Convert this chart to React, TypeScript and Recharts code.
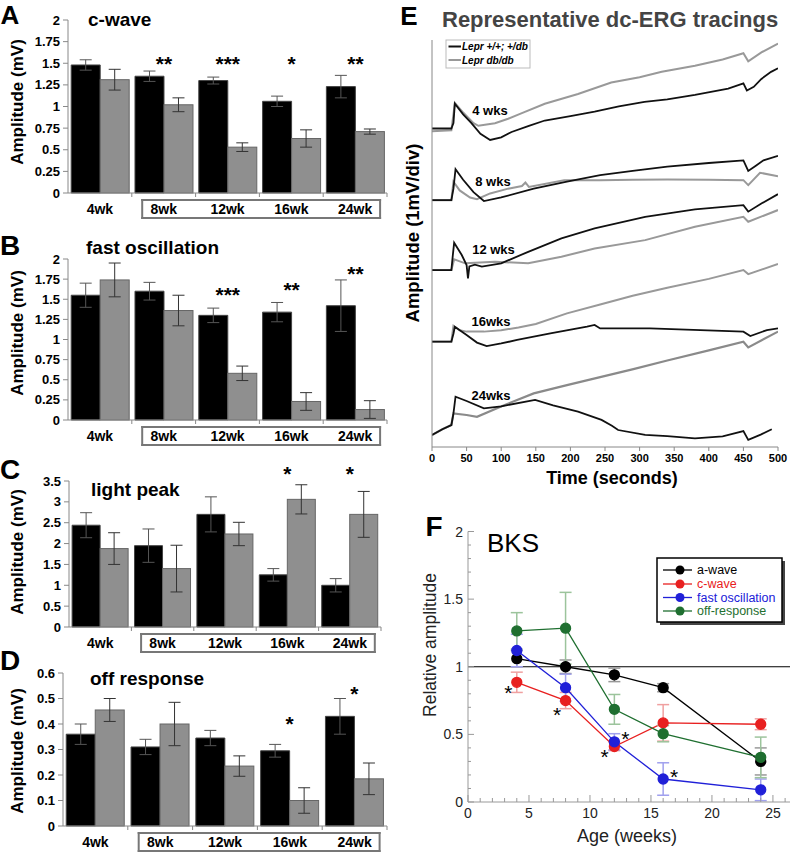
import React from 'react';
import { ComposedChart, LineChart, Bar, Line, XAxis, YAxis, ErrorBar, Scatter, ReferenceLine } from 'recharts';

const FONT = '"Liberation Sans", Arial, Helvetica, sans-serif';

// ---------- Panels A-D ----------
const ageLabels = ['4wk', '8wk', '12wk', '16wk', '24wk'];

const cwaveCtrl = [1.48, 1.35, 1.3, 1.06, 1.23];
const cwaveCtrlErr = [0.06, 0.06, 0.04, 0.06, 0.13];
const cwaveDb = [1.31, 1.02, 0.53, 0.63, 0.71];
const cwaveDbErr = [0.12, 0.08, 0.05, 0.1, 0.03];
const cwaveStars = ['', '**', '***', '*', '**'];
const cwaveStarLevel = [0, 1.55, 1.55, 1.55, 1.55];

const fastCtrl = [1.55, 1.6, 1.3, 1.34, 1.42];
const fastCtrlErr = [0.15, 0.11, 0.09, 0.12, 0.32];
const fastDb = [1.74, 1.36, 0.58, 0.23, 0.13];
const fastDbErr = [0.21, 0.19, 0.09, 0.11, 0.11];
const fastStars = ['', '', '***', '**', '**'];
const fastStarLevel = [0, 0, 1.62, 1.68, 1.87];

const lightCtrl = [2.44, 1.95, 2.7, 1.25, 1.0];
const lightCtrlErr = [0.3, 0.4, 0.42, 0.15, 0.16];
const lightDb = [1.88, 1.4, 2.23, 3.06, 2.7];
const lightDbErr = [0.38, 0.56, 0.28, 0.35, 0.55];
const lightStars = ['', '', '', '*', '*'];
const lightStarLevel = [0, 0, 0, 3.78, 3.78];

const offCtrl = [0.36, 0.31, 0.345, 0.295, 0.43];
const offCtrlErr = [0.04, 0.03, 0.03, 0.025, 0.07];
const offDb = [0.455, 0.4, 0.235, 0.1, 0.185];
const offDbErr = [0.045, 0.085, 0.04, 0.05, 0.062];
const offStars = ['', '', '', '*', '*'];
const offStarLevel = [0, 0, 0, 0.418, 0.536];

const cwaveTicks = [0, 0.25, 0.5, 0.75, 1, 1.25, 1.5, 1.75, 2];
const fastTicks = [0, 0.25, 0.5, 0.75, 1, 1.25, 1.5, 1.75, 2];
const lightTicks = [0, 0.5, 1, 1.5, 2, 2.5, 3, 3.5];
const offTicks = [0, 0.1, 0.2, 0.3, 0.4, 0.5, 0.6];

// ---------- Panel E (values in mV divisions) ----------
const timeTicks = [0, 50, 100, 150, 200, 250, 300, 350, 400, 450, 500];
const divTicks = [0, 1, 2, 3, 4, 5, 6, 7, 8, 9, 10, 11, 12, 13, 14, 15, 16, 17, 18, 19, 20, 21, 22, 23];

const wk4Black = [[0, 18.0], [28, 18.0], [31, 18.3], [33, 19.4], [45, 18.8], [57, 18.3], [70, 17.7], [84, 17.35], [100, 17.5], [115, 17.8], [140, 18.15], [163, 18.45], [200, 18.7], [235, 18.95], [270, 19.25], [307, 19.5], [340, 19.65], [380, 19.9], [428, 20.25], [450, 20.55], [455, 20.15], [465, 20.35], [476, 20.8], [490, 21.2], [500, 21.4]];
const wk4Gray = [[0, 17.85], [28, 17.9], [31, 18.8], [33, 19.45], [45, 18.9], [60, 18.3], [67, 18.15], [91, 18.3], [110, 18.55], [129, 18.85], [163, 19.4], [211, 19.95], [259, 20.6], [300, 20.9], [332, 21.2], [380, 21.55], [420, 21.9], [450, 22.25], [457, 21.8], [476, 22.3], [500, 22.8]];
const wk8Black = [[0, 13.95], [28, 13.95], [31, 14.6], [34, 15.7], [45, 15.1], [60, 14.4], [75, 13.9], [100, 14.1], [147, 14.6], [195, 15.0], [243, 15.37], [290, 15.6], [340, 15.84], [400, 16.05], [450, 16.2], [457, 15.6], [468, 15.9], [479, 16.2], [500, 16.45]];
const wk8Gray = [[0, 13.95], [28, 13.95], [31, 14.99], [40, 14.5], [55, 14.1], [65, 14.0], [84, 14.33], [110, 14.6], [130, 14.75], [135, 14.95], [140, 14.7], [191, 15.08], [243, 15.08], [290, 15.1], [340, 15.12], [400, 15.1], [450, 15.08], [457, 14.8], [474, 15.5], [500, 15.3]];
const wk12Black = [[0, 10.0], [28, 10.0], [30, 10.8], [32, 11.54], [43, 10.85], [50, 10.28], [52, 9.53], [54, 10.2], [62, 10.3], [72, 10.19], [100, 10.38], [139, 11.03], [187, 11.79], [235, 12.35], [308, 13.01], [380, 13.43], [450, 13.67], [457, 13.3], [476, 13.76], [500, 14.29]];
const wk12Gray = [[0, 10.0], [28, 10.0], [32, 10.6], [48, 10.38], [91, 10.47], [139, 10.38], [187, 10.75], [235, 11.22], [308, 11.69], [380, 12.45], [450, 13.01], [457, 12.73], [500, 13.39]];
const wk16Black = [[0, 5.95], [28, 5.95], [31, 6.4], [33, 6.8], [50, 6.33], [65, 5.9], [79, 5.7], [100, 5.85], [123, 6.05], [171, 6.42], [224, 6.8], [235, 6.9], [243, 6.7], [315, 6.7], [388, 6.61], [450, 6.52], [460, 6.27], [484, 6.61], [500, 6.7]];
const wk16Gray = [[0, 5.95], [28, 5.95], [31, 6.85], [40, 6.6], [50, 6.52], [75, 6.52], [100, 6.6], [125, 6.75], [150, 6.95], [195, 7.55], [243, 8.05], [290, 8.55], [340, 9.0], [400, 9.5], [450, 10.0], [457, 9.77], [500, 10.34]];
const wk24Black = [[0, 0.68], [15, 1.0], [28, 1.24], [31, 1.9], [34, 2.84], [50, 2.6], [75, 2.18], [100, 2.3], [149, 2.66], [175, 2.35], [211, 2.0], [245, 1.53], [260, 1.2], [269, 0.96], [308, 0.68], [340, 0.62], [380, 0.49], [420, 0.6], [450, 0.9], [457, 0.4], [475, 0.7], [491, 1.0]];
const wk24Gray = [[0, 0.68], [15, 1.0], [28, 1.24], [31, 1.9], [50, 1.81], [65, 1.71], [99, 2.28], [147, 3.03], [195, 3.5], [243, 3.95], [291, 4.4], [340, 4.89], [400, 5.46], [450, 5.95], [457, 5.63], [500, 6.52]];

// ---------- Panel F ----------
const weeks = [4, 8, 12, 16, 24];
const aWave = [1.06, 1.0, 0.94, 0.845, 0.3];
const aWaveErr = [0.06, 0.05, 0.05, 0.03, 0.1];
const cWave = [0.885, 0.75, 0.41, 0.585, 0.575];
const cWaveErr = [0.075, 0.06, 0.03, 0.135, 0.04];
const fastOsc = [1.12, 0.845, 0.445, 0.17, 0.09];
const fastOscErr = [0.12, 0.1, 0.06, 0.12, 0.08];
const offResp = [1.265, 1.285, 0.685, 0.505, 0.33];
const offRespErr = [0.135, 0.265, 0.11, 0.06, 0.15];
const starWeeks = [3.3, 7.3, 11.2, 12.9, 16.9];
const starLevels = [0.84, 0.68, 0.37, 0.5, 0.22];
const relTicks = [0, 0.1, 0.2, 0.3, 0.4, 0.5, 0.6, 0.7, 0.8, 0.9, 1, 1.1, 1.2, 1.3, 1.4, 1.5, 1.6, 1.7, 1.8, 1.9, 2];
const weekTicks = [0, 1, 2, 3, 4, 5, 6, 7, 8, 9, 10, 11, 12, 13, 14, 15, 16, 17, 18, 19, 20, 21, 22, 23, 24, 25, 26];

const RED = '#e82020';
const BLUE = '#2020d8';
const GREEN = '#1f6f30';

function BarPanel(props: any) {
  const { top, height, plotTop, plotBottom, plotLeft, plotRight, ctrl, ctrlErr, db, dbErr, stars, starLevel, domain, ticks } = props;
  const n = ageLabels.length;
  const rows = ageLabels.map((age, i) => ({
    age, ctrl: ctrl[i], ctrlErr: ctrlErr[i], db: db[i], dbErr: dbErr[i], star: stars[i], starLevel: starLevel[i],
  }));
  const hw = (plotRight - plotLeft) / n / 2;
  const AgeTick = (p: any) => {
    const { x, y, payload } = p;
    const i = ageLabels.indexOf(payload.value);
    const boxL = i === 1 ? x - 21.5 : x - hw;
    const boxR = i === n - 1 ? x + 25 : x + hw;
    const bs = { stroke: '#777', strokeWidth: 2, strokeLinecap: 'square' as const };
    return (
      <g>
        {i > 0 && <line x1={x - hw} x2={x - hw} y1={y} y2={y + 4} stroke="#888" />}
        {i === n - 1 && <line x1={x + hw} x2={x + hw} y1={y} y2={y + 4} stroke="#888" />}
        {i >= 1 && <line x1={boxL} x2={boxR} y1={y + 7} y2={y + 7} {...bs} />}
        {i >= 1 && <line x1={boxL} x2={boxR} y1={y + 25} y2={y + 25} {...bs} />}
        {i === 1 && <line x1={boxL} x2={boxL} y1={y + 7} y2={y + 25} {...bs} />}
        {i === n - 1 && <line x1={boxR} x2={boxR} y1={y + 7} y2={y + 25} {...bs} />}
        <text x={x} y={y + 16} textAnchor="middle" dominantBaseline="central" fontWeight="bold" fontSize={14} fontFamily={FONT} fill="#000">{payload.value}</text>
      </g>
    );
  };
  const DbShape = (p: any) => {
    const { x, y, width, height: h, payload } = p;
    const base = y + h;
    const perUnit = h / payload.db;
    return (
      <g>
        <rect x={x} y={y} width={width} height={h} fill="#8f8f8f" stroke="#666" strokeWidth={1} />
        {payload.star ? (
          <text x={x} y={base - payload.starLevel * perUnit + 12} textAnchor="middle" fontSize={21} fontWeight="bold" fontFamily={FONT} fill="#000">{payload.star}</text>
        ) : null}
      </g>
    );
  };
  return (
    <div style={{ position: 'absolute', left: 0, top }}>
      <ComposedChart width={400} height={height} data={rows} margin={{ top: plotTop, right: 400 - plotRight, left: 0, bottom: 0 }} barCategoryGap="5%" barGap={0}>
        <XAxis dataKey="age" height={height - plotBottom} tickLine={false} tickSize={0} tickMargin={0} interval={0} axisLine={{ stroke: '#888' }} tick={(p: any) => <AgeTick {...p} />} />
        <YAxis width={plotLeft} domain={domain} ticks={ticks} interval={0} tickSize={5} tickMargin={3} axisLine={{ stroke: '#888' }} tickLine={{ stroke: '#888' }} tick={{ fontSize: 13, fontWeight: 'bold', fill: '#000', fontFamily: FONT }} />
        <Bar dataKey="ctrl" fill="#000" stroke="#444" strokeWidth={1} isAnimationActive={false}>
          <ErrorBar dataKey="ctrlErr" width={6} stroke="#555" strokeWidth={1} direction="y" />
        </Bar>
        <Bar dataKey="db" shape={(p: any) => <DbShape {...p} />} isAnimationActive={false}>
          <ErrorBar dataKey="dbErr" width={6} stroke="#333" strokeWidth={1} direction="y" />
        </Bar>
      </ComposedChart>
    </div>
  );
}

const toPts = (arr: number[][]) => arr.map(([t, v]) => ({ t, v }));

const traces = [
  { key: 'w4g', data: wk4Gray, color: '#999', w: 2 },
  { key: 'w4b', data: wk4Black, color: '#111', w: 1.8 },
  { key: 'w8g', data: wk8Gray, color: '#999', w: 2 },
  { key: 'w8b', data: wk8Black, color: '#111', w: 1.8 },
  { key: 'w12g', data: wk12Gray, color: '#999', w: 2 },
  { key: 'w12b', data: wk12Black, color: '#111', w: 1.8 },
  { key: 'w16g', data: wk16Gray, color: '#999', w: 2 },
  { key: 'w16b', data: wk16Black, color: '#111', w: 1.8 },
  { key: 'w24g', data: wk24Gray, color: '#8a8a8a', w: 2.2 },
  { key: 'w24b', data: wk24Black, color: '#111', w: 1.8 },
];

const FTickY = (p: any) => {
  const { x, y, payload } = p;
  const v = payload.value;
  const major = Math.abs(v * 2 - Math.round(v * 2)) < 1e-6;
  return (
    <g>
      <line x1={x} x2={x + (major ? 6 : 3)} y1={y} y2={y} stroke="#999" />
      {major && <text x={x - 5} y={y} textAnchor="end" dominantBaseline="central" fontSize={14} fontFamily={FONT} fill="#222">{String(v)}</text>}
    </g>
  );
};
const FTickX = (p: any) => {
  const { x, y, payload } = p;
  const v = payload.value;
  const major = v % 5 === 0;
  return (
    <g>
      <line x1={x} x2={x} y1={y} y2={y - (major ? 7 : 4)} stroke="#999" />
      {major && <text x={x} y={y + 11} textAnchor="middle" dominantBaseline="central" fontSize={14} fontFamily={FONT} fill="#222">{String(v)}</text>}
    </g>
  );
};
const StarShape = (p: any) => (
  <text x={p.cx} y={p.cy + 12} textAnchor="middle" fontSize={21} fontFamily={FONT} fill="#000">*</text>
);

export default function App() {
  const fRows = weeks.map((week, i) => ({
    week, aWave: aWave[i], aWaveErr: aWaveErr[i], cWave: cWave[i], cWaveErr: cWaveErr[i],
    fastOsc: fastOsc[i], fastOscErr: fastOscErr[i], offResp: offResp[i], offRespErr: offRespErr[i],
  }));
  const starRows = starWeeks.map((week, i) => ({ week, level: starLevels[i] }));
  const fLegend = [
    { label: 'a-wave', color: '#000' },
    { label: 'c-wave', color: RED },
    { label: 'fast oscillation', color: BLUE },
    { label: 'off-response', color: GREEN },
  ];
  const fLegendY = [570, 584, 597.5, 611];
  const bold = { fontWeight: 'bold' as const, fontFamily: FONT };
  return (
    <div style={{ position: 'absolute', left: 0, top: 0, width: 790, height: 853, background: '#fff', overflow: 'hidden' }}>
      <BarPanel top={0} height={222} plotTop={20} plotBottom={193} plotLeft={68} plotRight={387}
        ctrl={cwaveCtrl} ctrlErr={cwaveCtrlErr} db={cwaveDb} dbErr={cwaveDbErr} stars={cwaveStars} starLevel={cwaveStarLevel}
        domain={[0, 2]} ticks={cwaveTicks} />
      <BarPanel top={226} height={224} plotTop={33} plotBottom={194} plotLeft={68} plotRight={387}
        ctrl={fastCtrl} ctrlErr={fastCtrlErr} db={fastDb} dbErr={fastDbErr} stars={fastStars} starLevel={fastStarLevel}
        domain={[0, 2]} ticks={fastTicks} />
      <BarPanel top={455} height={200} plotTop={26} plotBottom={172} plotLeft={69} plotRight={381}
        ctrl={lightCtrl} ctrlErr={lightCtrlErr} db={lightDb} dbErr={lightDbErr} stars={lightStars} starLevel={lightStarLevel}
        domain={[0, 3.5]} ticks={lightTicks} />
      <BarPanel top={660} height={193} plotTop={13} plotBottom={166} plotLeft={63} plotRight={387}
        ctrl={offCtrl} ctrlErr={offCtrlErr} db={offDb} dbErr={offDbErr} stars={offStars} starLevel={offStarLevel}
        domain={[0, 0.6]} ticks={offTicks} />

      <div style={{ position: 'absolute', left: 400, top: 0 }}>
        <LineChart width={390} height={490} margin={{ top: 40, right: 12, left: 0, bottom: 0 }}>
          <XAxis type="number" dataKey="t" domain={[0, 500]} ticks={timeTicks} interval={0} height={43} tickSize={4} tickMargin={3}
            axisLine={{ stroke: '#888' }} tickLine={{ stroke: '#888' }} tick={{ fontSize: 11, fontWeight: 'bold', fill: '#000', fontFamily: FONT }} allowDataOverflow />
          <YAxis type="number" domain={[0, 23]} ticks={divTicks} interval={0} width={32} tick={false} tickSize={4}
            axisLine={{ stroke: '#888' }} tickLine={{ stroke: '#888' }} allowDataOverflow />
          {traces.map((tr) => (
            <Line key={tr.key} data={toPts(tr.data)} dataKey="v" type="linear" stroke={tr.color} strokeWidth={tr.w} dot={false} isAnimationActive={false} />
          ))}
        </LineChart>
      </div>

      <div style={{ position: 'absolute', left: 400, top: 500 }}>
        <ComposedChart width={390} height={353} data={fRows} margin={{ top: 31.5, right: 0, left: 0, bottom: 0 }}>
          <XAxis type="number" dataKey="week" domain={[0, 26.4]} ticks={weekTicks} interval={0} height={51} tickLine={false} tickSize={0} tickMargin={0}
            axisLine={{ stroke: '#999' }} tick={(p: any) => <FTickX {...p} />} allowDataOverflow />
          <YAxis type="number" domain={[0, 2]} ticks={relTicks} interval={0} width={68} tickLine={false} tickSize={0} tickMargin={0}
            axisLine={{ stroke: '#999' }} tick={(p: any) => <FTickY {...p} />} />
          <ReferenceLine y={1} stroke="#000" strokeWidth={1.2} />
          <Line dataKey="aWave" stroke="#000" strokeWidth={1.3} dot={{ r: 5, fill: '#000', stroke: '#000' }} isAnimationActive={false}>
            <ErrorBar dataKey="aWaveErr" width={6} stroke="#999" direction="y" />
          </Line>
          <Line dataKey="cWave" stroke={RED} strokeWidth={1.3} dot={{ r: 5, fill: RED, stroke: RED }} isAnimationActive={false}>
            <ErrorBar dataKey="cWaveErr" width={6} stroke="#f0a0a0" direction="y" />
          </Line>
          <Line dataKey="fastOsc" stroke={BLUE} strokeWidth={1.3} dot={{ r: 5, fill: BLUE, stroke: BLUE }} isAnimationActive={false}>
            <ErrorBar dataKey="fastOscErr" width={6} stroke="#a0a0ee" direction="y" />
          </Line>
          <Line dataKey="offResp" stroke={GREEN} strokeWidth={1.3} dot={{ r: 5, fill: GREEN, stroke: GREEN }} isAnimationActive={false}>
            <ErrorBar dataKey="offRespErr" width={6} stroke="#9cc49c" direction="y" />
          </Line>
          <Scatter data={starRows} dataKey="level" shape={(p: any) => <StarShape {...p} />} isAnimationActive={false} />
        </ComposedChart>
      </div>

      <svg width={790} height={853} style={{ position: 'absolute', left: 0, top: 0, pointerEvents: 'none' }}>
        {/* panel letters */}
        <text x={10} y={24} textAnchor="middle" fontSize={26} {...bold}>A</text>
        <text x={10} y={255} textAnchor="middle" fontSize={28} {...bold}>B</text>
        <text x={10} y={479} textAnchor="middle" fontSize={28} {...bold}>C</text>
        <text x={10} y={670} textAnchor="middle" fontSize={28} {...bold}>D</text>
        <text x={409} y={25} textAnchor="middle" fontSize={26} {...bold}>E</text>
        <text x={434} y={536} textAnchor="middle" fontSize={28} {...bold}>F</text>

        {/* bar panel titles */}
        <text x={88} y={19} dominantBaseline="central" fontSize={19} {...bold}>c-wave</text>
        <text x={86} y={247} dominantBaseline="central" fontSize={19} {...bold}>fast oscillation</text>
        <text x={91} y={489} dominantBaseline="central" fontSize={19} {...bold}>light peak</text>
        <text x={90} y={678} dominantBaseline="central" fontSize={19} {...bold}>off response</text>
        {[102, 333, 552, 751].map((cy) => (
          <text key={cy} x={17} y={cy} transform={`rotate(-90 17 ${cy})`} textAnchor="middle" dominantBaseline="central" fontSize={17} {...bold}>Amplitude (mV)</text>
        ))}

        {/* panel E texts */}
        <text x={442} y={19} dominantBaseline="central" fontSize={22} {...bold} fill="#444">Representative dc-ERG tracings</text>
        <text x={412} y={233} transform="rotate(-90 412 233)" textAnchor="middle" dominantBaseline="central" fontSize={18.5} {...bold}>Amplitude (1mV/div)</text>
        <text x={612} y={478} textAnchor="middle" dominantBaseline="central" fontSize={18} {...bold}>Time (seconds)</text>
        <text x={490} y={110} textAnchor="middle" dominantBaseline="central" fontSize={13} {...bold}>4 wks</text>
        <text x={493} y={181} textAnchor="middle" dominantBaseline="central" fontSize={13} {...bold}>8 wks</text>
        <text x={493.5} y={249} textAnchor="middle" dominantBaseline="central" fontSize={13} {...bold}>12 wks</text>
        <text x={491} y={321} textAnchor="middle" dominantBaseline="central" fontSize={13} {...bold}>16wks</text>
        <text x={491} y={395.5} textAnchor="middle" dominantBaseline="central" fontSize={13} {...bold}>24wks</text>
        <rect x={446} y={40} width={84} height={28} fill="#fff" stroke="#bbb" strokeWidth={1} />
        <line x1={448.5} x2={461} y1={46.5} y2={46.5} stroke="#111" strokeWidth={2} />
        <line x1={448.5} x2={461} y1={60} y2={60} stroke="#999" strokeWidth={2} />
        <text x={462} y={46.5} dominantBaseline="central" fontSize={10} fontStyle="italic" {...bold}>Lepr +/+; +/db</text>
        <text x={462} y={60} dominantBaseline="central" fontSize={10} fontStyle="italic" {...bold}>Lepr db/db</text>

        {/* panel F texts */}
        <text x={487} y={543} dominantBaseline="central" fontSize={26} fontFamily={FONT}>BKS</text>
        <text x={430} y={645} transform="rotate(-90 430 645)" textAnchor="middle" dominantBaseline="central" fontSize={17.5} fontFamily={FONT} fill="#222">Relative amplitude</text>
        <text x={627} y={836} textAnchor="middle" dominantBaseline="central" fontSize={18} fontFamily={FONT} fill="#222">Age (weeks)</text>
        <rect x={660} y={561} width={125} height={64} fill="#444" />
        <rect x={657} y={558} width={125} height={64} fill="#fff" stroke="#000" strokeWidth={1.5} />
        {fLegend.map((e, i) => (
          <g key={e.label}>
            <line x1={663} x2={692} y1={fLegendY[i]} y2={fLegendY[i]} stroke={e.color} strokeWidth={1.3} />
            <circle cx={680} cy={fLegendY[i]} r={4.5} fill={e.color} />
            <text x={697} y={fLegendY[i]} dominantBaseline="central" fontSize={12.5} fontFamily={FONT} fill={e.color}>{e.label}</text>
          </g>
        ))}
      </svg>
    </div>
  );
}
